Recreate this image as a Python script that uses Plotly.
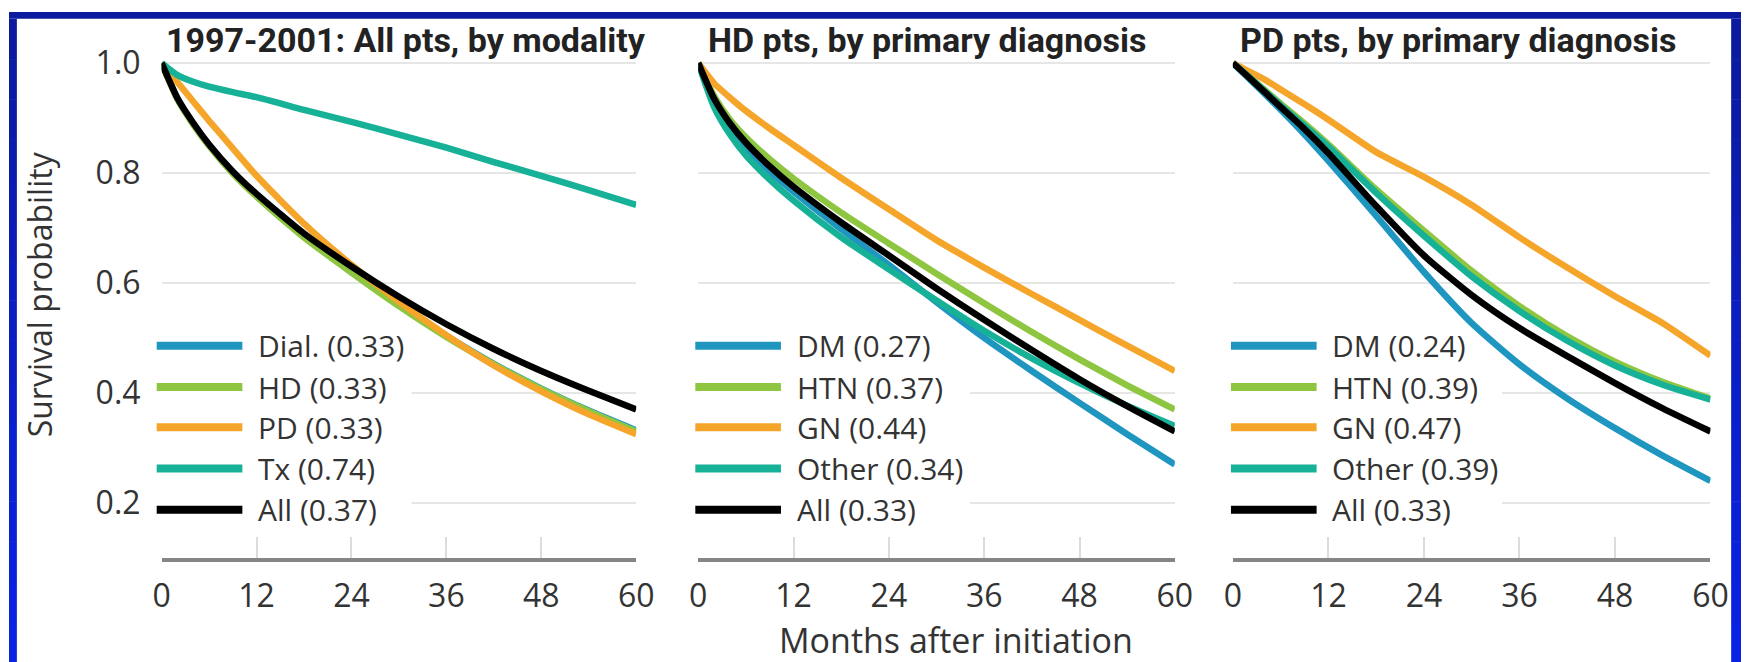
import plotly.graph_objects as go

W, H = 1759, 662

months = [0, 2, 4, 6, 9, 12, 18, 24, 30, 36, 42, 48, 54, 60]

# Panel 1: all patients by modality
p1_names = ["Dial. (0.33)", "HD (0.33)", "PD (0.33)", "Tx (0.74)", "All (0.37)"]
p1_dial = [1.0, 0.936, 0.890, 0.851, 0.801, 0.759, 0.685, 0.621, 0.560, 0.504, 0.453, 0.408, 0.368, 0.332]
p1_hd = [1.0, 0.934, 0.888, 0.849, 0.799, 0.757, 0.683, 0.619, 0.558, 0.502, 0.452, 0.407, 0.367, 0.330]
p1_pd = [1.0, 0.965, 0.930, 0.895, 0.845, 0.795, 0.708, 0.633, 0.566, 0.505, 0.450, 0.403, 0.361, 0.325]
p1_tx = [1.0, 0.978, 0.966, 0.957, 0.947, 0.938, 0.915, 0.893, 0.870, 0.846, 0.820, 0.795, 0.769, 0.742]
p1_all = [1.0, 0.936, 0.891, 0.852, 0.803, 0.762, 0.690, 0.630, 0.575, 0.525, 0.480, 0.440, 0.404, 0.370]

# Panel 2: HD patients by primary diagnosis
p2_names = ["DM (0.27)", "HTN (0.37)", "GN (0.44)", "Other (0.34)", "All (0.33)"]
p2_dm = [1.0, 0.930, 0.883, 0.847, 0.803, 0.766, 0.698, 0.633, 0.565, 0.500, 0.440, 0.382, 0.325, 0.270]
p2_htn = [1.0, 0.940, 0.897, 0.865, 0.825, 0.790, 0.728, 0.672, 0.617, 0.563, 0.511, 0.461, 0.414, 0.370]
p2_gn = [1.0, 0.963, 0.937, 0.913, 0.881, 0.851, 0.791, 0.734, 0.678, 0.628, 0.580, 0.533, 0.486, 0.440]
p2_other = [1.0, 0.920, 0.870, 0.832, 0.788, 0.750, 0.683, 0.625, 0.568, 0.513, 0.463, 0.418, 0.377, 0.340]
p2_all = [1.0, 0.935, 0.890, 0.855, 0.812, 0.775, 0.710, 0.650, 0.590, 0.533, 0.478, 0.425, 0.376, 0.330]

# Panel 3: PD patients by primary diagnosis
p3_names = ["DM (0.24)", "HTN (0.39)", "GN (0.47)", "Other (0.39)", "All (0.33)"]
p3_dm = [1.0, 0.972, 0.944, 0.915, 0.870, 0.822, 0.722, 0.620, 0.527, 0.452, 0.390, 0.336, 0.286, 0.240]
p3_htn = [1.0, 0.976, 0.951, 0.926, 0.890, 0.852, 0.770, 0.695, 0.622, 0.558, 0.503, 0.457, 0.420, 0.390]
p3_gn = [1.0, 0.985, 0.970, 0.952, 0.925, 0.897, 0.838, 0.793, 0.742, 0.683, 0.628, 0.576, 0.527, 0.468]
p3_other = [1.0, 0.975, 0.949, 0.923, 0.886, 0.848, 0.764, 0.686, 0.612, 0.549, 0.495, 0.450, 0.415, 0.388]
p3_all = [1.0, 0.974, 0.947, 0.920, 0.880, 0.836, 0.740, 0.650, 0.578, 0.518, 0.467, 0.418, 0.372, 0.330]

titles = ["1997-2001: All pts, by modality", "HD pts, by primary diagnosis", "PD pts, by primary diagnosis"]
x_ticks = [0, 12, 24, 36, 48, 60]
y_ticks = [0.2, 0.4, 0.6, 0.8, 1.0]
y_tick_text = ["0.2", "0.4", "0.6", "0.8", "1.0"]
x_title = "Months after initiation"
y_title = "Survival probability"

BLUE, GREEN, ORANGE, TEAL, BLACK = "#1f96c0", "#8ec641", "#f5a52a", "#17b197", "#000000"
colors = [BLUE, GREEN, ORANGE, TEAL, BLACK]

panels = [
    (p1_names, [p1_dial, p1_hd, p1_pd, p1_tx, p1_all]),
    (p2_names, [p2_dm, p2_htn, p2_gn, p2_other, p2_all]),
    (p3_names, [p3_dm, p3_htn, p3_gn, p3_other, p3_all]),
]

def X(px):
    return px / W

def Y(py):
    return 1 - py / H

# pixel layout
x_dom = [(155, 637), (700, 1184), (1243, 1728)]
y_top_px, y_bot_px = 40.8, 556
y_range = [0.1, 1.02]

SANS = "Open Sans, Liberation Sans, sans-serif"
TICK_FONT = dict(family=SANS, size=32, color="#333333")
AX_FONT = dict(family=SANS, size=34, color="#333333")
YT_FONT = dict(family=SANS, size=32, color="#333333")
LEG_FONT = dict(family=SANS, size=30, color="#333333")
TITLE_FONT = dict(family="Roboto, Liberation Sans, sans-serif", size=34, color="#222222", weight=700)

fig = go.Figure()
layout = dict(width=W, height=H, margin=dict(l=0, r=0, t=0, b=0),
              paper_bgcolor="white", plot_bgcolor="white", showlegend=False)

shapes = []
annotations = []

for i, (names, series) in enumerate(panels):
    sfx = "" if i == 0 else str(i + 1)
    for name, vals, col in zip(names, series, colors):
        fig.add_trace(go.Scatter(
            x=months, y=vals, mode="lines", name=name,
            line=dict(color=col, width=6.5, shape="spline", smoothing=0.6),
            xaxis="x" + sfx, yaxis="y" + sfx, hoverinfo="skip"))
    layout["xaxis" + sfx] = dict(
        domain=[X(x_dom[i][0]), X(x_dom[i][1])], range=[0, 60], anchor="y" + sfx,
        tickvals=x_ticks, ticktext=[str(t) for t in x_ticks], tickfont=TICK_FONT,
        showgrid=False, zeroline=False, showline=True, linecolor="#858585", linewidth=4,
        ticks="inside", ticklen=21, tickcolor="#dcdcdc", tickwidth=2, ticklabelstandoff=7)
    layout["yaxis" + sfx] = dict(
        domain=[Y(y_bot_px), Y(y_top_px)], range=y_range, anchor="x" + sfx,
        tickvals=y_ticks, ticktext=y_tick_text, tickfont=TICK_FONT,
        showticklabels=(i == 0), showgrid=True, gridcolor="#e6e6e6", gridwidth=2,
        zeroline=False, showline=False, ticks="", ticklabelstandoff=20)

    # title
    tx = [157, 708, 1248][i]
    annotations.append(dict(text=titles[i], x=X(tx), y=Y(29), xref="paper", yref="paper",
                            xanchor="left", yanchor="middle", showarrow=False, font=TITLE_FONT))

    # white box behind the legend hiding gridlines
    cover_right = [31.6, 34.2, 33.8][i]
    shapes.append(dict(type="rect", xref="x" + sfx, yref="y" + sfx, x0=0, x1=cover_right,
                       y0=0.16, y1=0.52, fillcolor="white", line=dict(width=0), layer="between"))

    # legend entries
    L = [150, 697, 1241][i]
    rows = [340, 382, 423, 465, 507]
    for name, col, ry in zip(names, colors, rows):
        shapes.append(dict(type="line", xref="paper", yref="paper",
                           x0=X(L), x1=X(L + 87), y0=Y(ry), y1=Y(ry),
                           line=dict(color=col, width=8), layer="above"))
        annotations.append(dict(text=name, x=X(L + 101), y=Y(ry), xref="paper", yref="paper",
                                xanchor="left", yanchor="middle", showarrow=False, font=LEG_FONT))

# axis titles
annotations.append(dict(text=x_title, x=X(962), y=Y(640), xref="paper", yref="paper",
                        xanchor="center", yanchor="middle", showarrow=False, font=AX_FONT))
annotations.append(dict(text=y_title, x=X(31), y=Y(288), xref="paper", yref="paper",
                        xanchor="center", yanchor="middle", showarrow=False, font=YT_FONT,
                        textangle=-90))

# blue frame (top band + vertical gradient side bands)
shapes.append(dict(type="rect", xref="paper", yref="paper", x0=0, x1=1, y0=Y(7), y1=1,
                   fillcolor="#0b1a9e", line=dict(width=0), layer="above"))
n = 16
c0 = (0x0b, 0x1a, 0x9e)
c1 = (0x0a, 0x22, 0xe4)
for k in range(n):
    t = k / (n - 1)
    c = "rgb(%d,%d,%d)" % tuple(round(a + (b - a) * t) for a, b in zip(c0, c1))
    ya, yb = 7 + (H - 7) * k / n, 7 + (H - 7) * (k + 1) / n + 0.5
    shapes.append(dict(type="rect", xref="paper", yref="paper", x0=0, x1=X(8),
                       y0=Y(yb), y1=Y(ya), fillcolor=c, line=dict(width=0), layer="above"))
    shapes.append(dict(type="rect", xref="paper", yref="paper", x0=X(1749), x1=1,
                       y0=Y(yb), y1=Y(ya), fillcolor=c, line=dict(width=0), layer="above"))

layout["shapes"] = shapes
layout["annotations"] = annotations
fig.update_layout(**layout)
fig.write_html("out.html")
